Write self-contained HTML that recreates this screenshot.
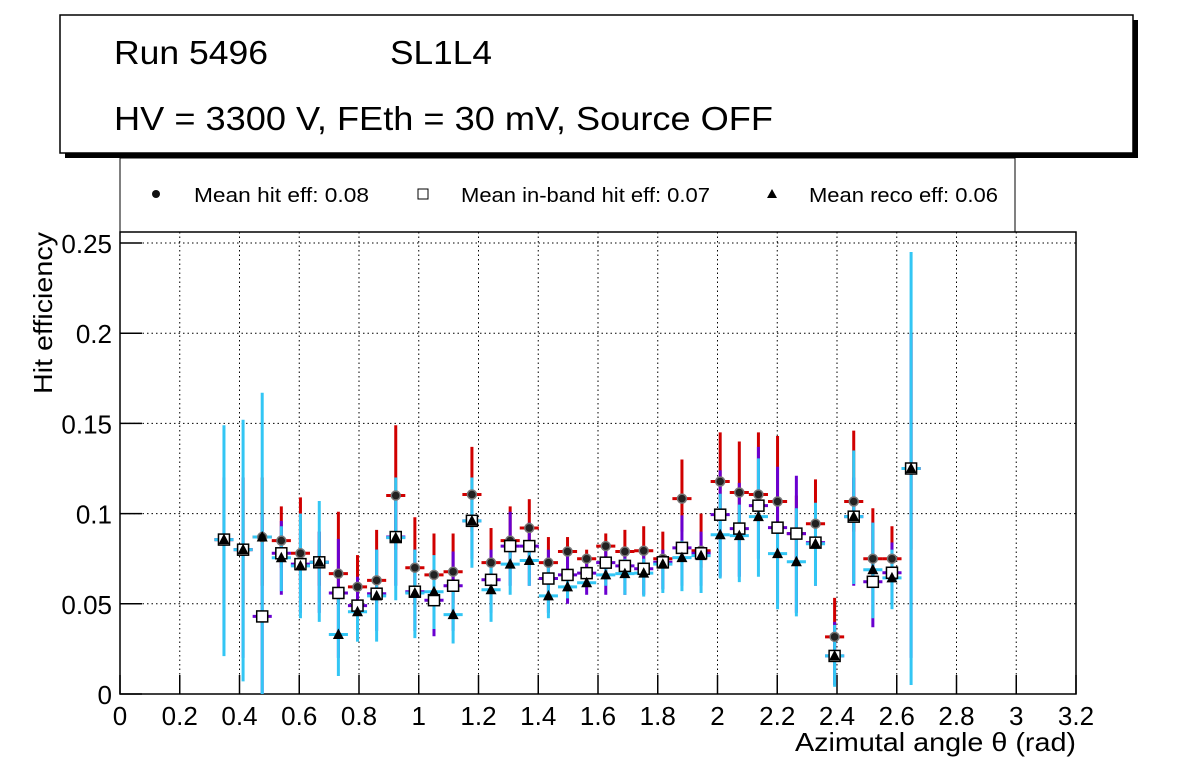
<!DOCTYPE html>
<html><head><meta charset="utf-8"><style>
html,body{margin:0;padding:0;background:#fff;}
svg{display:block;font-family:"Liberation Sans",sans-serif;}
</style></head><body>
<svg id="c" width="1196" height="772" viewBox="0 0 1196 772" xml:space="preserve">
<rect width="1196" height="772" fill="#fff"/>
<g>
<rect x="65" y="20" width="1073" height="138" fill="#000"/>
<rect x="60" y="15" width="1073" height="138" fill="#fff" stroke="#000" stroke-width="1.5"/>
<text x="114" y="64" font-size="33" textLength="154" lengthAdjust="spacingAndGlyphs">Run 5496</text>
<text x="390" y="64" font-size="33" textLength="102" lengthAdjust="spacingAndGlyphs">SL1L4</text>
<text x="114" y="130" font-size="33" textLength="659" lengthAdjust="spacingAndGlyphs">HV = 3300 V, FEth = 30 mV, Source OFF</text>
</g>
<g>
<rect x="120" y="158" width="895" height="74" fill="#fff" stroke="#000" stroke-width="1"/>
<g><circle cx="156" cy="194" r="4" fill="#111"/><text x="194" y="202" font-size="20" textLength="175" lengthAdjust="spacingAndGlyphs">Mean hit  eff: 0.08</text></g>
<g><rect x="418" y="189" width="10" height="10" fill="#fff" stroke="#000"/><text x="461" y="202" font-size="20" textLength="249" lengthAdjust="spacingAndGlyphs">Mean in-band hit eff: 0.07</text></g>
<g><polygon points="772,189 767,198 777,198" fill="#000"/><text x="809" y="202" font-size="20" textLength="189" lengthAdjust="spacingAndGlyphs">Mean reco eff: 0.06</text></g>
</g>
<g id="grid"></g>
<g id="axes"></g>
<g id="marks"></g>
<text x="795" y="751" font-size="26" textLength="281" lengthAdjust="spacingAndGlyphs">Azimutal angle θ (rad)</text>
<text transform="translate(52,394) rotate(-90)" font-size="26" textLength="162" lengthAdjust="spacingAndGlyphs">Hit efficiency</text>
</svg>
<script>
const xTicks=[0,0.2,0.4,0.6,0.8,1,1.2,1.4,1.6,1.8,2,2.2,2.4,2.6,2.8,3,3.2];
const yTicks=[0,0.05,0.1,0.15,0.2,0.25];
const xTickLabels=["0","0.2","0.4","0.6","0.8","1","1.2","1.4","1.6","1.8","2","2.2","2.4","2.6","2.8","3","3.2"];
const yTickLabels=["0","0.05","0.1","0.15","0.2","0.25"];
const angles=[0.348,0.412,0.476,0.540,0.604,0.667,0.731,0.795,0.859,0.923,0.987,1.051,1.115,1.178,1.242,1.306,1.370,1.434,1.498,1.562,1.626,1.690,1.753,1.817,1.881,1.945,2.009,2.073,2.137,2.201,2.264,2.328,2.392,2.456,2.520,2.584,2.648];
const hitEff=[0.0856,0.080,0.087,0.085,0.078,0.073,0.0667,0.0594,0.063,0.110,0.070,0.066,0.0678,0.1106,0.0728,0.085,0.092,0.0728,0.079,0.075,0.082,0.079,0.0794,0.075,0.1083,0.0794,0.1178,0.1117,0.1106,0.1067,0.0889,0.0944,0.0317,0.1067,0.075,0.075,0.125];
const hitUp=[0.12,0.12,0.12,0.104,0.109,0.09,0.101,0.077,0.091,0.149,0.098,0.089,0.089,0.137,0.092,0.104,0.108,0.087,0.087,0.08,0.089,0.091,0.093,0.090,0.130,0.100,0.145,0.140,0.145,0.143,0.11,0.119,0.0533,0.146,0.103,0.093,0.2];
const hitDn=[0.05,0.05,0.06,0.07,0.062,0.06,0.05,0.045,0.05,0.08,0.05,0.05,0.05,0.09,0.06,0.07,0.08,0.06,0.068,0.07,0.07,0.07,0.07,0.07,0.09,0.07,0.10,0.095,0.095,0.09,0.075,0.08,0.02,0.09,0.06,0.06,0.08];
const inEff=[0.0856,0.080,0.043,0.078,0.072,0.073,0.056,0.049,0.0556,0.087,0.0567,0.052,0.060,0.096,0.0633,0.082,0.082,0.064,0.066,0.067,0.0728,0.071,0.0694,0.073,0.081,0.078,0.0994,0.0917,0.1044,0.0922,0.0889,0.0839,0.0211,0.0983,0.0622,0.0672,0.125];
const inUp=[0.12,0.12,0.10,0.096,0.09,0.09,0.086,0.065,0.08,0.11,0.08,0.07,0.079,0.11,0.08,0.101,0.095,0.08,0.08,0.075,0.08,0.08,0.08,0.08,0.099,0.09,0.124,0.117,0.137,0.126,0.121,0.1,0.04,0.12,0.095,0.084,0.2];
const inDn=[0.03,0.02,0.0,0.055,0.045,0.045,0.02,0.03,0.035,0.06,0.035,0.032,0.035,0.075,0.045,0.06,0.06,0.045,0.05,0.055,0.055,0.055,0.055,0.058,0.06,0.06,0.065,0.065,0.075,0.05,0.045,0.06,0.005,0.06,0.037,0.05,0.02];
const recoEff=[0.0856,0.080,0.087,0.0755,0.071,0.073,0.033,0.0456,0.0544,0.0867,0.056,0.0567,0.044,0.096,0.0578,0.072,0.074,0.0544,0.0594,0.0617,0.066,0.0667,0.067,0.072,0.0756,0.0767,0.0883,0.0878,0.0983,0.0778,0.0733,0.0833,0.0211,0.0983,0.0689,0.0644,0.125];
const recoUp=[0.149,0.152,0.167,0.093,0.1,0.107,0.056,0.051,0.08,0.120,0.08,0.077,0.06,0.120,0.075,0.085,0.085,0.074,0.066,0.07,0.075,0.075,0.075,0.076,0.085,0.082,0.111,0.105,0.1306,0.095,0.103,0.106,0.0383,0.135,0.095,0.08,0.245];
const recoDn=[0.021,0.007,0.0,0.057,0.042,0.04,0.01,0.029,0.029,0.052,0.031,0.036,0.028,0.070,0.04,0.055,0.060,0.042,0.053,0.06,0.06,0.055,0.054,0.056,0.057,0.056,0.064,0.062,0.065,0.047,0.043,0.06,0.004,0.061,0.042,0.047,0.005];

const X0=120,X1=1076,Y0=694,Y1=243;
function xs(v){return X0+(v-0)/3.2*(X1-X0);}
function ys(v){return Y0-(v-0)/0.25*(Y0-Y1);}
const NS='http://www.w3.org/2000/svg';
function mk(tag,attrs,parent){const e=document.createElementNS(NS,tag);for(const k in attrs)e.setAttribute(k,attrs[k]);parent.appendChild(e);return e;}
const grid=document.getElementById('grid'),axes=document.getElementById('axes'),marks=document.getElementById('marks');
mk('rect',{x:X0,y:232,width:X1-X0,height:Y0-232,fill:'none',stroke:'#000','stroke-width':1.5},axes);
xTicks.forEach((t,i)=>{const x=xs(t);
 if(i>0&&i<xTicks.length-1){const g=mk('line',{x1:x,x2:x,y1:232,y2:Y0,stroke:'#000','stroke-dasharray':'1.5,3','stroke-width':1},grid);
 }
 const tk=mk('line',{x1:x,x2:x,y1:Y0,y2:Y0-19,stroke:'#000','stroke-width':1.5},axes);
 
 const tl=mk('text',{x:x,y:725,'font-size':26,'text-anchor':'middle'},axes);tl.textContent=xTickLabels[i];
 });
yTicks.forEach((t,i)=>{const y=ys(t);
 if(i>0){const g=mk('line',{x1:X0,x2:X1,y1:y,y2:y,stroke:'#000','stroke-dasharray':'1.5,3','stroke-width':1},grid);
 }
 const tk=mk('line',{x1:X0,x2:X0+22,y1:y,y2:y,stroke:'#000','stroke-width':1.5},axes);
 
 const tl=mk('text',{x:112,y:y+10,'font-size':26,'text-anchor':'end'},axes);tl.textContent=yTickLabels[i];
 });
const hw=0.032;
function errs(vals,up,dn,color,name){
 const g=mk('g',{},marks);
 angles.forEach((a,i)=>{const x=xs(a);
  const v=mk('line',{x1:x,x2:x,y1:ys(up[i]),y2:ys(dn[i]),stroke:color,'stroke-width':3},g);
  
  const h=mk('line',{x1:xs(a-hw),x2:xs(a+hw),y1:ys(vals[i]),y2:ys(vals[i]),stroke:color,'stroke-width':3},g);
  });}
errs(hitEff,hitUp,hitDn,'#d00000','hit-errors');
errs(inEff,inUp,inDn,'#6a00d0','inband-errors');
errs(recoEff,recoUp,recoDn,'#33c6f4','reco-errors');
angles.forEach((a,i)=>{const x=xs(a);
 const c=mk('circle',{cx:x,cy:ys(hitEff[i]),r:4.5,fill:'#222',stroke:'#777','stroke-width':1.5},marks);
 
 const s=mk('rect',{x:x-5.5,y:ys(inEff[i])-5.5,width:11,height:11,fill:'#fff',stroke:'#000','stroke-width':1.5},marks);
 
 const yy=ys(recoEff[i]);
 const t=mk('polygon',{points:`${x},${yy-6} ${x-5.5},${yy+4.5} ${x+5.5},${yy+4.5}`,fill:'#000'},marks);
 });
</script>
</body></html>
